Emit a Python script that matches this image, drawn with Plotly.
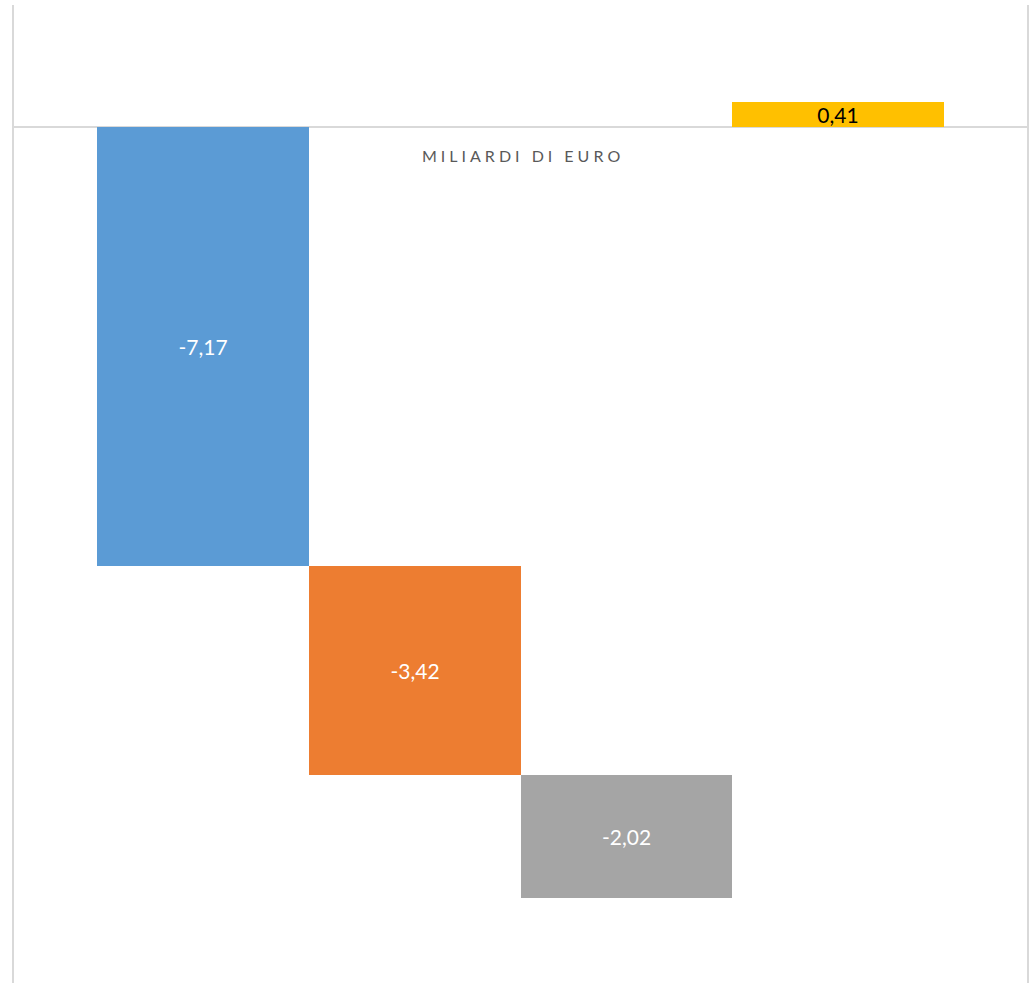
import plotly.graph_objects as go

# Variazioni in miliardi di euro
steps = [-7.17, -3.42, -2.02]
final_value = 0.41
colors = ["#5B9BD5", "#ED7D31", "#A5A5A5", "#FFC000"]
label_colors = ["white", "white", "white", "black"]

# cumulative bases for the falling steps; last bar starts from zero
bases = []
running = 0.0
for v in steps:
    bases.append(running)
    running += v
bases.append(0.0)
values = steps + [final_value]
xpos = list(range(len(values)))
labels = [f"{v:.2f}".replace(".", ",") for v in values]

fig = go.Figure()
fig.add_trace(go.Bar(
    x=xpos, y=values, base=bases,
    marker=dict(color=colors, line=dict(width=0)),
    width=1.0,
    text=labels,
    textposition="inside",
    insidetextanchor="middle",
    textangle=0,
    textfont=dict(family="Lato, Open Sans, sans-serif", size=21, color=label_colors),
    constraintext="none",
    hoverinfo="skip",
))

line_color = "#D9D9D9"
for xp in (0, 1):
    fig.add_shape(type="line", xref="paper", yref="paper",
                  x0=xp, x1=xp, y0=0, y1=1,
                  line=dict(color=line_color, width=2))

# spaced-out unit caption
caption = "\u2002 ".join("\u2005".join(word) for word in ["MILIARDI", "DI", "EURO"])
fig.add_annotation(
    text=caption,
    xref="paper", yref="paper", x=0.5, y=0.858,
    showarrow=False,
    font=dict(family="Lato, Open Sans, sans-serif", size=16, color="#595959"),
)

fig.update_layout(
    width=1030, height=983,
    margin=dict(l=13, r=2, t=5, b=0),
    paper_bgcolor="white", plot_bgcolor="white",
    showlegend=False,
    bargap=0,
    uniformtext=dict(minsize=21, mode="show"),
    xaxis=dict(range=[-0.896, 3.896], showticklabels=False, showgrid=False,
               zeroline=False, showline=False, ticks=""),
    yaxis=dict(range=[-14, 2], showticklabels=False, showgrid=False,
               zeroline=True, zerolinecolor=line_color, zerolinewidth=2,
               showline=False, ticks=""),
)

fig.write_html("out.html")
